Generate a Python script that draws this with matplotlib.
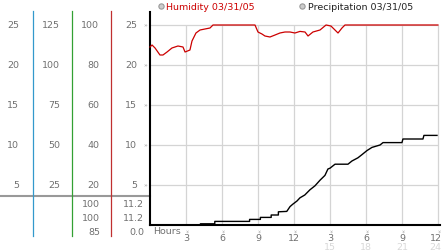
import matplotlib
matplotlib.use("Agg")
import matplotlib.pyplot as plt
from matplotlib.transforms import blended_transform_factory as blend

# ---------------- data ----------------
hum_hours = [0, 0.17, 0.42, 0.83, 1.08, 1.42, 1.83, 2.33, 2.75, 2.92, 3.33, 3.5, 3.83,
             4.17, 4.58, 5.0, 5.25, 8.75, 9.0, 9.33, 9.58, 10.0, 10.42, 10.83, 11.25,
             11.67, 12.08, 12.5, 12.92, 13.17, 13.58, 14.17, 14.67, 15.08, 15.67, 16.0,
             16.25, 24.0]
hum_vals = [89, 90, 88.5, 85, 85, 86.5, 88.5, 89.5, 89, 86.5, 87.5, 92, 96,
            97.5, 98, 98.5, 100, 100, 96.5, 95.5, 94.5, 94, 95, 96, 96.5,
            96.5, 96, 96.8, 96.5, 94.5, 96.5, 97.5, 100, 99.5, 96, 98.5,
            100, 100]

precip_hours = [0, 4.2, 4.2, 5.4, 5.4, 8.3, 8.3, 9.2, 9.2, 10.1, 10.1, 10.7, 10.7, 11.4,
                11.67, 11.9, 12.25, 12.5, 12.9, 13.33, 13.75, 14.17, 14.58, 14.83, 15.0,
                15.42, 16.5, 16.83, 17.33, 17.67, 18.08, 18.5, 19.17, 19.42, 21.0, 21.08,
                22.75, 22.83, 23.92]
precip_vals = [0, 0, 0.15, 0.15, 0.45, 0.45, 0.7, 0.7, 0.95, 0.95, 1.25, 1.25, 1.65, 1.7,
               2.3, 2.6, 3.0, 3.4, 3.75, 4.4, 4.9, 5.6, 6.2, 7.0, 7.1,
               7.6, 7.6, 8.0, 8.4, 8.8, 9.3, 9.7, 10.0, 10.3, 10.3, 10.75,
               10.75, 11.2, 11.2]

grid_levels = [5, 10, 15, 20, 25]
col1_labels = ['5', '10', '15', '20', '25']
col2_labels = ['25', '50', '75', '100', '125']
col3_labels = ['20', '40', '60', '80', '100']
col4_labels = ['5', '10', '15', '20', '25']
hum_stats = ['100', '100', '85']
precip_stats = ['11.2', '11.2', '0.0']

x_ticks = [3, 6, 9, 12, 15, 18, 21, 24]
x_tick_labels = ['3', '6', '9', '12', '3', '6', '9', '12']
x_sub_ticks = [15, 18, 21, 24]
x_sub_labels = ['15', '18', '21', '24']

legend_labels = ['Humidity 03/31/05', 'Precipitation 03/31/05']

# ---------------- figure ----------------
W, H = 442, 253
fig = plt.figure(figsize=(W / 100, H / 100), dpi=100)
fig.patch.set_facecolor('white')
plt.rcParams['font.family'] = ['DejaVu Sans']

# overlay axes in pixel coordinates
ov = fig.add_axes([0, 0, 1, 1])
ov.set_xlim(0, W)
ov.set_ylim(H, 0)
ov.axis('off')

# main plot axes
ax = fig.add_axes([150 / W, (H - 226) / H, 290 / W, 213 / H])
ax.set_xlim(0, 24.17)
ax.set_ylim(0, 26.625)
ax.patch.set_alpha(0)
for s in ['top', 'right']:
    ax.spines[s].set_visible(False)
for s in ['left', 'bottom']:
    ax.spines[s].set_color('black')
    ax.spines[s].set_linewidth(1.5)

grid_c = '#d4d4d4'
ax.hlines(grid_levels, 0, 24, colors=grid_c, lw=0.9, zorder=1)
ax.vlines(x_ticks, 0, 25, colors=grid_c, lw=0.9, zorder=1)

# humidity on twin scale
ax2 = ax.twinx()
ax2.set_ylim(0, 26.625 * 4)
ax2.axis('off')
ax2.plot(hum_hours, hum_vals, color='#cc0000', lw=0.9, zorder=3, clip_on=False)

ax.plot(precip_hours, precip_vals, color='black', lw=1.0, zorder=3)

ax.set_yticks([])
ax.set_xticks([])
txt_c = '#707070'
fs = 6.8
tr_y = blend(ov.transData, ax.transData)
cols = [(19, col1_labels), (60, col2_labels), (99, col3_labels), (137, col4_labels)]
for xr, labs in cols:
    for lv, lab in zip(grid_levels, labs):
        ov.text(xr, lv, lab, transform=tr_y, ha='right', va='center',
                fontsize=fs, color=txt_c)
for lv in grid_levels:
    ov.text(145, lv, '»', transform=tr_y, ha='center', va='center',
            fontsize=4.5, color='#999999')

# column separator lines
ov.plot([33, 33], [12, 237], color='#3399cc', lw=0.9)
ov.plot([72, 72], [12, 237], color='#33a033', lw=0.9)
ov.plot([111, 111], [12, 237], color='#c03030', lw=0.9)
ov.plot([0, 150], [197, 197], color='#999999', lw=1.5, zorder=0)

# stats rows
for yy, a, b in zip([204.5, 218.5, 232.5], hum_stats, precip_stats):
    ov.text(100, yy, a, ha='right', va='center', fontsize=fs, color=txt_c)
    ov.text(144, yy, b, ha='right', va='center', fontsize=fs, color=txt_c)

# x tick labels
tr_x = blend(ax.transData, ov.transData)
for t, lab in zip(x_ticks, x_tick_labels):
    tx = min(t, 23.8)
    ax.text(tx, 238.5, lab, transform=tr_x, ha='center', va='center',
            fontsize=fs, color=txt_c)
    ax.text(t, 230.5, '»', transform=tr_x, ha='center', va='center',
            fontsize=4.5, color='#999999', rotation=-90)
for t, lab in zip(x_sub_ticks, x_sub_labels):
    tx = min(t, 23.8)
    ax.text(tx, 247.5, lab, transform=tr_x, ha='center', va='center',
            fontsize=fs, color='#d8d8d8')
ov.text(153, 232, 'Hours', ha='left', va='center', fontsize=fs, color=txt_c)

# legend
ov.plot([161], [7], marker='o', ms=3.8, mfc='#cccccc', mec='#999999', mew=0.8)
ov.text(166, 7, legend_labels[0], ha='left', va='center', fontsize=fs, color='#cc0000')
ov.plot([302], [7], marker='o', ms=3.8, mfc='#cccccc', mec='#999999', mew=0.8)
ov.text(308, 7, legend_labels[1], ha='left', va='center', fontsize=fs, color='#222222')

fig.savefig('out.png', dpi=100)
